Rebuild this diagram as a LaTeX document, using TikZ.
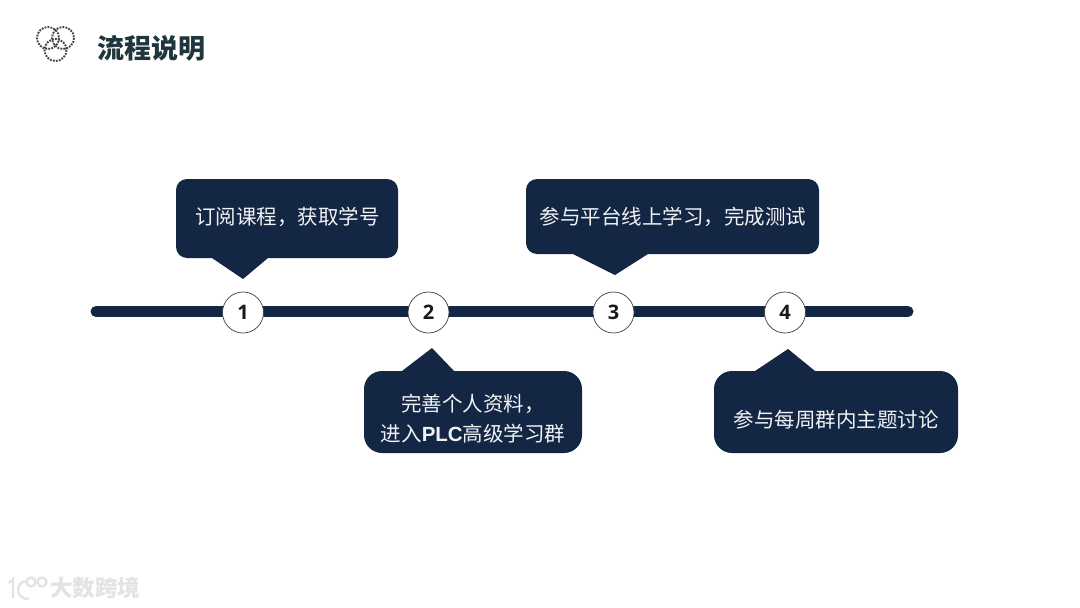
\documentclass[tikz,border=0pt]{standalone}
\usepackage{fontspec}
\setmainfont{Noto Sans CJK SC}
\newfontfamily\numfont{Open Sans}
\newfontfamily\latinfont{Liberation Sans}
\definecolor{navy}{HTML}{132644}
\definecolor{titlecol}{HTML}{1E363C}
\definecolor{iconcol}{HTML}{3E4445}
\definecolor{markcol}{HTML}{E2E4E4}
\tikzset{
  calloutbox/.style={fill=navy},
  callouttext/.style={text=white!94!navy,font=\fontsize{20.5}{27}\selectfont,align=center,inner sep=0pt},
  numdisc/.style={circle,draw=black!75,line width=0.7pt,fill=white,minimum size=41pt,inner sep=0pt,font=\numfont\bfseries\fontsize{20}{24}\selectfont,text=black!90},
  ring/.style={draw=iconcol,line width=1.9pt,dash pattern=on 1.8pt off 1.2pt},
  markline/.style={draw=markcol,line width=2.4pt}
}
\begin{document}
\begin{tikzpicture}[x=1pt,y=-1pt]
\useasboundingbox (0,0) rectangle (1080,608);
\fill[white] (0,0) rectangle (1080,608);
% icon
\draw[ring] (48,38) circle (11);
\draw[ring] (63,38) circle (11);
\draw[ring] (55.5,50) circle (11);
% title
\node[text=titlecol,font=\bfseries\fontsize{27}{30}\selectfont,inner sep=0pt] (title) at (151,48) {流程说明};
% timeline
\draw[navy,line width=11pt,line cap=round] (96,311.5) coordinate (lineL) -- (908,311.5) coordinate (lineR);
% callouts
\fill[calloutbox] (176,190) arc (180:90:11pt) -- (387,179) arc (90:0:11pt) -- (398,247) arc (0:-90:11pt) -- (268,258) -- (243,279) -- (212,258) -- (187,258) arc (-90:-180:11pt) -- cycle;
\fill[calloutbox] (526,190) arc (180:90:11pt) -- (808,179) arc (90:0:11pt) -- (819,243) arc (0:-90:11pt) -- (648,254) -- (615,275) -- (573,254) -- (537,254) arc (-90:-180:11pt) -- cycle;
\fill[calloutbox] (364,389) arc (180:90:18pt) -- (402,371) -- (432,348) -- (454,371) -- (564,371) arc (90:0:18pt) -- (582,435) arc (0:-90:18pt) -- (382,453) arc (-90:-180:18pt) -- cycle;
\fill[calloutbox] (714,389) arc (180:90:18pt) -- (755,371) -- (788,349) -- (815,371) -- (940,371) arc (90:0:18pt) -- (958,435) arc (0:-90:18pt) -- (732,453) arc (-90:-180:18pt) -- cycle;
% callout texts
\node[callouttext] (t1) at (287.5,217) {订阅课程，获取学号};
\node[callouttext] (t3) at (673,216.5) {参与平台线上学习，完成测试};
\node[callouttext] (t2a) at (473,404) {完善个人资料，};
\node[callouttext] (t2b) at (473,433.5) {进入{\latinfont\bfseries PLC}高级学习群};
\node[callouttext] (t4) at (836,419.5) {参与每周群内主题讨论};
% discs
\node[numdisc] (n1) at (243,312.5) {1};
\node[numdisc] (n2) at (428.5,312.5) {2};
\node[numdisc] (n3) at (613.5,312.5) {3};
\node[numdisc] (n4) at (785,312.5) {4};
% watermark
\draw[markline] (9,583) -- (13,579) -- (13,598);
\draw[markline] (25.5,581) arc (100:280:9pt);
\draw[markline] (31,582) circle (4.5);
\draw[markline] (42,582) circle (4.5);
\node[text=markcol,font=\bfseries\fontsize{22.5}{24}\selectfont,inner sep=0pt] (mark) at (95,588) {大数跨境};
\end{tikzpicture}
\end{document}
